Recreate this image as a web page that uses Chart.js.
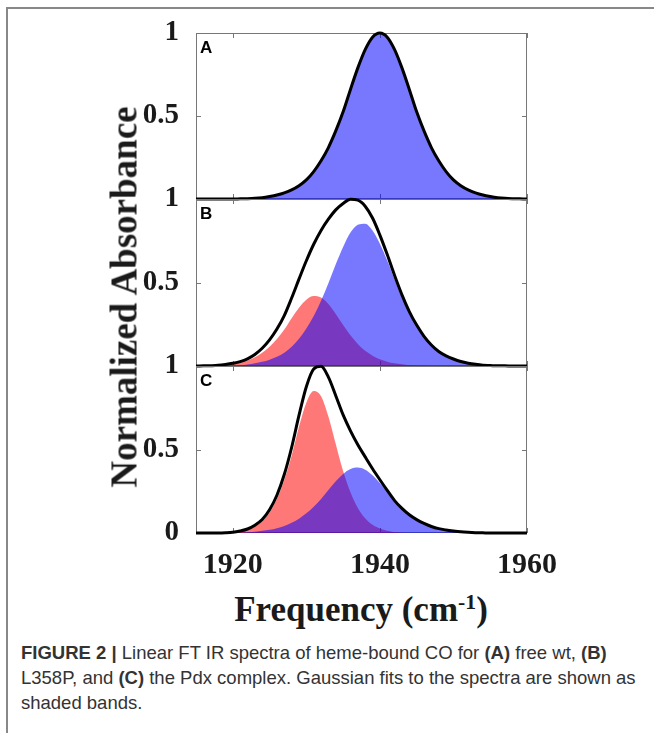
<!DOCTYPE html>
<html>
<head>
<meta charset="utf-8">
<script src="https://cdn.jsdelivr.net/npm/chart.js@4.4.0/dist/chart.umd.min.js"></script>
<style>
  html, body { margin: 0; padding: 0; background: #fff; }
  body { width: 654px; height: 733px; position: relative; overflow: hidden; }
  #frame { position: absolute; left: 6px; top: 7px; width: 700px; height: 800px;
           border-top: 2px solid #888; border-left: 2px solid #888; }
  canvas { position: absolute; left: 0; }
  #ytitle { position: absolute; left: 124px; top: 297px; transform: translate(-50%, -50%) rotate(-90deg);
            font: bold 37px "Liberation Serif"; color: #1a1a1a; white-space: nowrap; }
  #xtitle { position: absolute; left: 361px; top: 592px; transform: translateX(-50%);
            font: bold 35px "Liberation Serif"; line-height: 35px; color: #1a1a1a; white-space: nowrap; }
  #xtitle sup { font-size: 0.62em; vertical-align: 0.55em; line-height: 0; }
  #caption { position: absolute; left: 21px; top: 640px; font: 18.5px "Liberation Sans";
             line-height: 25px; color: #333; white-space: nowrap; }
</style>
</head>
<body>
<div id="frame"></div>
<canvas id="chartA" width="600" height="246" style="top:-7px"></canvas>
<canvas id="chartB" width="600" height="247" style="top:159px"></canvas>
<canvas id="chartC" width="600" height="257" style="top:326px"></canvas>
<div id="ytitle">Normalized Absorbance</div>
<div id="xtitle">Frequency (cm<sup>-1</sup>)</div>
<div id="caption"><b>FIGURE 2 |</b> Linear FT IR spectra of heme-bound CO for <b>(A)</b> free wt, <b>(B)</b><br>L358P, and <b>(C)</b> the Pdx complex. Gaussian fits to the spectra are shown as<br>shaded bands.</div>
<script>
// frequency axis (cm-1), one point per wavenumber
const freq = [1915, 1916, 1917, 1918, 1919, 1920, 1921, 1922, 1923, 1924,
              1925, 1926, 1927, 1928, 1929, 1930, 1931, 1932, 1933, 1934,
              1935, 1936, 1937, 1938, 1939, 1940, 1941, 1942, 1943, 1944,
              1945, 1946, 1947, 1948, 1949, 1950, 1951, 1952, 1953, 1954,
              1955, 1956, 1957, 1958, 1959, 1960];

// (A) free wt - spectrum and its single band are the same curve
const absA = [0, 0, 0, 0, 0, 0, 0.001, 0.002, 0.004, 0.008,
              0.015, 0.024, 0.037, 0.055, 0.08, 0.115, 0.165, 0.23, 0.31, 0.41,
              0.525, 0.66, 0.79, 0.9, 0.975, 1, 0.975, 0.9, 0.79, 0.66,
              0.525, 0.41, 0.31, 0.23, 0.165, 0.115, 0.08, 0.055, 0.037, 0.024,
              0.015, 0.008, 0.004, 0.002, 0.001, 0];

// (B) L358P
const absB = [0, 0.001, 0.002, 0.004, 0.009, 0.016, 0.026, 0.043, 0.069, 0.106,
              0.156, 0.221, 0.302, 0.407, 0.52, 0.63, 0.729, 0.812, 0.879, 0.935,
              0.973, 0.998, 0.993, 0.957, 0.886, 0.784, 0.667, 0.542, 0.426, 0.326,
              0.245, 0.178, 0.126, 0.087, 0.061, 0.042, 0.027, 0.017, 0.01, 0.005,
              0.003, 0.001, 0.001, 0, 0, 0];
const blueB = [0, 0, 0, 0, 0.001, 0.003, 0.005, 0.009, 0.016, 0.025,
               0.038, 0.056, 0.08, 0.115, 0.163, 0.224, 0.299, 0.39, 0.495, 0.609,
               0.713, 0.799, 0.846, 0.852, 0.811, 0.732, 0.631, 0.518, 0.41, 0.316,
               0.238, 0.174, 0.124, 0.086, 0.06, 0.041, 0.027, 0.017, 0.01, 0.005,
               0.003, 0.001, 0.001, 0, 0, 0];
const redB = [0, 0.001, 0.002, 0.004, 0.008, 0.013, 0.021, 0.033, 0.052, 0.079,
              0.116, 0.162, 0.218, 0.286, 0.349, 0.397, 0.419, 0.41, 0.371, 0.312,
              0.245, 0.184, 0.132, 0.091, 0.062, 0.04, 0.026, 0.016, 0.01, 0.005,
              0.003, 0.001, 0, 0, 0, 0, 0, 0, 0, 0,
              0, 0, 0, 0, 0, 0];

// (C) Pdx complex
const absC = [0, 0, 0, 0, 0.001, 0.004, 0.012, 0.024, 0.047, 0.081,
              0.139, 0.226, 0.35, 0.512, 0.704, 0.876, 0.982, 0.998, 0.933, 0.822,
              0.707, 0.612, 0.529, 0.456, 0.385, 0.319, 0.255, 0.194, 0.147, 0.109,
              0.08, 0.057, 0.039, 0.026, 0.018, 0.012, 0.007, 0.004, 0.002, 0.001,
              0, 0, 0, 0, 0, 0];
const redC = [0, 0, 0, 0, 0.001, 0.003, 0.01, 0.02, 0.04, 0.07,
              0.123, 0.203, 0.317, 0.463, 0.636, 0.78, 0.85, 0.819, 0.698, 0.533,
              0.371, 0.244, 0.15, 0.088, 0.049, 0.027, 0.014, 0.005, 0.002, 0,
              0, 0, 0, 0, 0, 0, 0, 0, 0, 0,
              0, 0, 0, 0, 0, 0];
const blueC = [0, 0, 0, 0, 0, 0.001, 0.002, 0.005, 0.008, 0.013,
               0.019, 0.029, 0.042, 0.062, 0.086, 0.118, 0.157, 0.204, 0.258, 0.31,
               0.354, 0.383, 0.392, 0.379, 0.346, 0.3, 0.247, 0.194, 0.149, 0.112,
               0.082, 0.058, 0.04, 0.027, 0.018, 0.012, 0.007, 0.004, 0.002, 0.001,
               0, 0, 0, 0, 0, 0];

const xTicks = [1920, 1940, 1960];
const yTicks = [0, 0.5, 1];

function pts(vals) {
    return vals.map((v, i) => ({ x: freq[i], y: v }));
}

// gray box, small inward ticks and the panel letter
const frameTicks = {
    id: 'frameTicks',
    beforeDatasetsDraw(chart) {
        const { ctx, chartArea: a, scales: { x, y } } = chart;
        ctx.save();
        ctx.strokeStyle = '#777';
        ctx.lineWidth = 1;
        ctx.strokeRect(a.left + 0.5, a.top + 0.5, a.width - 1, a.height - 1);
        ctx.beginPath();
        xTicks.forEach(v => {
            const px = Math.round(x.getPixelForValue(v)) + 0.5;
            ctx.moveTo(px, a.top); ctx.lineTo(px, a.top + 5);
            ctx.moveTo(px, a.bottom); ctx.lineTo(px, a.bottom - 5);
        });
        yTicks.forEach(v => {
            const py = Math.round(y.getPixelForValue(v)) + 0.5;
            ctx.moveTo(a.left, py); ctx.lineTo(a.left + 5, py);
            ctx.moveTo(a.right, py); ctx.lineTo(a.right - 5, py);
        });
        ctx.stroke();
        ctx.restore();
    },
    afterDraw(chart, args, opts) {
        const { ctx, chartArea: a } = chart;
        ctx.save();
        ctx.font = 'bold 17px "Liberation Sans"';
        ctx.fillStyle = '#000';
        ctx.textBaseline = 'alphabetic';
        ctx.fillText(opts.letter, a.left + 4, a.top + 20);
        ctx.restore();
    }
};

function makePanel(id, letter, blackVals, blueVals, redVals, showX) {
    const datasets = [{
        data: pts(blackVals), borderColor: '#000', borderWidth: 3,
        fill: false, order: 1, clip: false
    }, {
        data: pts(blueVals), borderWidth: 0, borderColor: 'rgba(0,0,0,0)',
        backgroundColor: 'rgba(0,0,255,0.53)', fill: 'origin', order: 2
    }];
    if (redVals) {
        datasets.push({
            data: pts(redVals), borderWidth: 0, borderColor: 'rgba(0,0,0,0)',
            backgroundColor: 'rgba(255,0,0,0.53)', fill: 'origin', order: 3
        });
    }
    return new Chart(document.getElementById(id), {
        type: 'line',
        data: { datasets: datasets },
        options: {
            responsive: false,
            animation: false,
            layout: { padding: { top: 40, bottom: showX ? 0 : 40, left: 0, right: 73 } },
            elements: { point: { radius: 0 }, line: { cubicInterpolationMode: 'monotone' } },
            plugins: { legend: { display: false }, tooltip: { enabled: false }, frameTicks: { letter: letter } },
            scales: {
                x: {
                    type: 'linear', min: 1915, max: 1960, display: showX,
                    grid: { display: false }, border: { display: false },
                    afterBuildTicks: s => { s.ticks = xTicks.map(v => ({ value: v })); },
                    afterFit: s => { if (showX) s.height = 50; },
                    ticks: {
                        padding: 6, autoSkip: false, maxRotation: 0, color: '#1a1a1a',
                        font: { family: 'Liberation Serif', size: 30, weight: 'bold' },
                        callback: v => String(v)
                    }
                },
                y: {
                    min: 0, max: 1,
                    grid: { display: false }, border: { display: false },
                    afterBuildTicks: s => { s.ticks = yTicks.map(v => ({ value: v })); },
                    afterFit: s => { s.width = 196; },
                    ticks: {
                        padding: 9, color: '#1a1a1a',
                        font: { family: 'Liberation Serif', size: 29, weight: 'bold' },
                        callback: v => (v === 0 && !showX) ? '' : String(v)
                    }
                }
            }
        },
        plugins: [frameTicks]
    });
}

makePanel('chartA', 'A', absA, absA, null, false);
makePanel('chartB', 'B', absB, blueB, redB, false);
makePanel('chartC', 'C', absC, blueC, redC, true);
</script>
</body>
</html>
